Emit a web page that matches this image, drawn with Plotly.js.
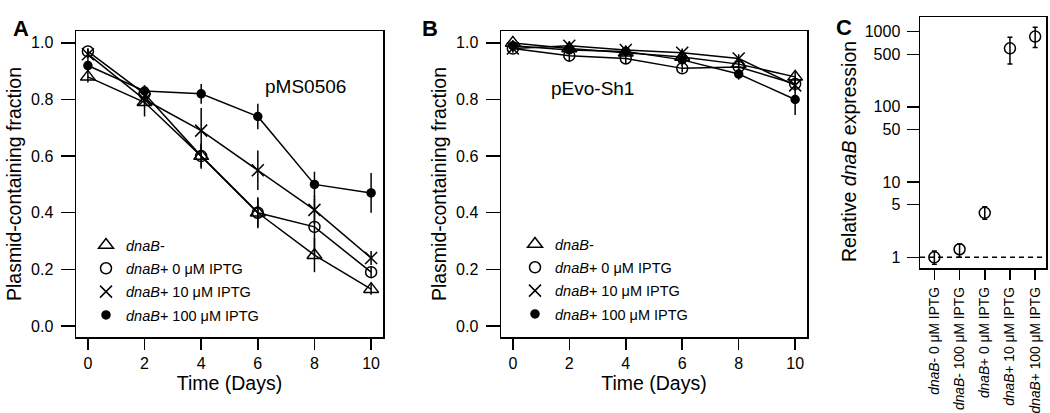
<!DOCTYPE html>
<html>
<head>
<meta charset="utf-8">
<script src="https://cdn.plot.ly/plotly-3.0.1.min.js"></script>
<style>html,body{margin:0;padding:0;background:#fff}#chart{width:1050px;height:413px}</style>
</head>
<body>
<div id="chart"></div>
<script>
// ---------- data ----------
const days = [0, 2, 4, 6, 8, 10];
const seriesNames = ['<i>dnaB</i>-', '<i>dnaB</i>+ 0 μM IPTG', '<i>dnaB</i>+ 10 μM IPTG', '<i>dnaB</i>+ 100 μM IPTG'];

// Panel A: pMS0506
const aDnaBminus = [0.88, 0.79, 0.60, 0.40, 0.25, 0.13];
const aIptg0     = [0.97, 0.82, 0.60, 0.40, 0.35, 0.19];
const aIptg10    = [0.96, 0.80, 0.69, 0.55, 0.41, 0.24];
const aIptg100   = [0.92, 0.83, 0.82, 0.74, 0.50, 0.47];
const aErrMinus  = [0.02, 0.05, 0.045, 0.055, 0.06, 0.02];
const aErr0      = [0.01, 0.03, 0.04, 0.05, 0.10, 0.02];
const aErr10     = [0.02, 0.02, 0.08, 0.07, 0.05, 0.025];
const aErr100    = [0.02, 0.02, 0.035, 0.045, 0.045, 0.07];

// Panel B: pEvo-Sh1
const bDnaBminus = [1.00, 0.98, 0.965, 0.95, 0.925, 0.88];
const bIptg0     = [0.98, 0.955, 0.945, 0.91, 0.915, 0.855];
const bIptg10    = [0.98, 0.99, 0.975, 0.965, 0.945, 0.85];
const bIptg100   = [0.99, 0.975, 0.97, 0.94, 0.89, 0.80];
const bErrMinus  = [0.01, 0.01, 0.01, 0.015, 0.015, 0.02];
const bErr0      = [0.015, 0.02, 0.02, 0.015, 0.02, 0.02];
const bErr10     = [0.01, 0.015, 0.015, 0.015, 0.015, 0.02];
const bErr100    = [0.01, 0.015, 0.015, 0.02, 0.02, 0.055];

// Panel C: relative dnaB expression
const cCategories = ['<i>dnaB</i>- 0 μM IPTG', '<i>dnaB</i>- 100 μM IPTG', '<i>dnaB</i>+ 0 μM IPTG', '<i>dnaB</i>+ 10 μM IPTG', '<i>dnaB</i>+ 100 μM IPTG'];
const cValues   = [1.0, 1.28, 3.9, 600, 861];
const cErrUpper = [1.21, 1.5, 4.7, 843, 1143];
const cErrLower = [0.81, 1.0, 3.2, 373, 618];

// ---------- styles ----------
const FONT = 'Liberation Sans, Arial, Helvetica, sans-serif';
const symbols = ['triangle-up-open', 'circle-open', 'x-thin-open', 'circle'];
const sizes = [13, 11, 12, 8];

function panelTraces(xa, ya, legendId, ys, errs) {
  const out = [];
  ys.forEach((y, i) => {
    out.push({
      x: days, y: y, xaxis: xa, yaxis: ya, type: 'scatter', mode: 'lines',
      line: {color: '#000', width: 1.5}, showlegend: false, hoverinfo: 'skip'
    });
  });
  ys.forEach((y, i) => {
    out.push({
      x: days, y: y, xaxis: xa, yaxis: ya, type: 'scatter', mode: 'markers',
      name: seriesNames[i], legend: legendId, legendgroup: legendId + i,
      marker: {symbol: symbols[i], size: sizes[i], color: '#000', line: {color: '#000', width: 1.5}},
      error_y: {type: 'data', array: errs[i], visible: true, color: '#000', thickness: 1.5, width: 0}
    });
  });
  return out;
}

const traces = [].concat(
  panelTraces('x', 'y', 'legend', [aDnaBminus, aIptg0, aIptg10, aIptg100], [aErrMinus, aErr0, aErr10, aErr100]),
  panelTraces('x2', 'y2', 'legend2', [bDnaBminus, bIptg0, bIptg10, bIptg100], [bErrMinus, bErr0, bErr10, bErr100])
);

traces.push({
  x: cCategories, y: cValues, xaxis: 'x3', yaxis: 'y3', type: 'scatter', mode: 'markers',
  showlegend: false,
  marker: {symbol: 'circle-open', size: 11, color: '#000', line: {color: '#000', width: 1.5}},
  error_y: {
    type: 'data', symmetric: false, visible: true, color: '#000', thickness: 1.5, width: 2.5,
    array: cErrUpper.map((u, i) => u - cValues[i]),
    arrayminus: cErrLower.map((l, i) => cValues[i] - l)
  }
});

const W = 1050, H = 413;
const px = v => v / W, py = v => 1 - v / H;

const tickFont = {family: FONT, size: 16, color: '#000'};
const titleFont = {family: FONT, size: 19.5, color: '#000'};

function timeAxis(domain, anchor) {
  return {
    domain: domain, anchor: anchor, range: [-0.42, 10.42],
    tickvals: days, ticks: 'outside', ticklen: 11, tickwidth: 1.5, tickcolor: '#000',
    showline: true, mirror: true, linecolor: '#000', linewidth: 1.5,
    showgrid: false, zeroline: false, tickfont: tickFont,
    title: {text: 'Time (Days)', font: titleFont, standoff: 4}
  };
}
function fracAxis(domain, anchor) {
  return {
    domain: domain, anchor: anchor, range: [-0.039, 1.042],
    tickvals: [0, 0.2, 0.4, 0.6, 0.8, 1.0], tickformat: '.1f',
    ticks: 'outside', ticklen: 14, tickwidth: 1.5, tickcolor: '#000',
    showline: true, mirror: true, linecolor: '#000', linewidth: 1.5,
    showgrid: false, zeroline: false, tickfont: tickFont, ticklabelstandoff: 4,
    title: {text: 'Plasmid-containing fraction', font: titleFont, standoff: 4}
  };
}

const legendBase = {
  font: {family: FONT, size: 14.5, color: '#000'}, bgcolor: 'rgba(0,0,0,0)', borderwidth: 0,
  xanchor: 'left', yanchor: 'top', tracegroupgap: 1.5, itemclick: false
};

const layout = {
  width: W, height: H,
  margin: {l: 0, r: 0, t: 0, b: 0},
  paper_bgcolor: '#fff', plot_bgcolor: '#fff',
  font: {family: FONT, color: '#000'},
  xaxis: timeAxis([px(76), px(383)], 'y'),
  yaxis: fracAxis([py(337), py(31)], 'x'),
  xaxis2: timeAxis([px(501), px(807)], 'y2'),
  yaxis2: fracAxis([py(337), py(31)], 'x2'),
  xaxis3: {
    domain: [px(920), px(1046)], anchor: 'y3', range: [-0.57, 4.43], type: 'category',
    ticks: 'outside', ticklen: 10, tickwidth: 1.5, tickcolor: '#000', tickangle: -90,
    showline: true, mirror: true, linecolor: '#000', linewidth: 1.5, showgrid: false,
    tickfont: {family: FONT, size: 13.8, color: '#000'}, ticklabelstandoff: 2
  },
  yaxis3: {
    domain: [py(268), py(17)], anchor: 'x3', type: 'log', range: [-0.142, 3.195],
    tickvals: [1, 5, 10, 50, 100, 500, 1000], ticktext: ['1', '5', '10', '50', '100', '500', '1000'],
    ticks: 'outside', ticklen: 12, tickwidth: 1.5, tickcolor: '#000',
    showline: true, mirror: true, linecolor: '#000', linewidth: 1.5,
    showgrid: false, zeroline: false, tickfont: tickFont, ticklabelstandoff: 3
  },
  legend: Object.assign({x: px(86), y: py(229)}, legendBase),
  legend2: Object.assign({x: px(515), y: py(228)}, legendBase),
  shapes: [{
    type: 'line', xref: 'x3 domain', yref: 'y3', x0: 0, x1: 1, y0: 1, y1: 1,
    line: {color: '#000', width: 1.5, dash: '5px,4px'}
  }],
  annotations: [
    {text: '<b>A</b>', xref: 'paper', yref: 'paper', x: px(11), y: py(14), showarrow: false, font: {family: FONT, size: 22, color: '#000'}},
    {text: '<b>B</b>', xref: 'paper', yref: 'paper', x: px(430), y: py(14), showarrow: false, font: {family: FONT, size: 22, color: '#000'}},
    {text: '<b>C</b>', xref: 'paper', yref: 'paper', x: px(854), y: py(13), showarrow: false, font: {family: FONT, size: 22, color: '#000'}},
    {text: 'Relative <i>dnaB</i> expression', xref: 'paper', yref: 'paper', x: px(862), y: py(152), textangle: -90, showarrow: false, font: titleFont},
    {text: 'pMS0506', xref: 'x', yref: 'y', x: 7.67, y: 0.845, showarrow: false, font: {family: FONT, size: 19, color: '#000'}},
    {text: 'pEvo-Sh1', xref: 'x2', yref: 'y2', x: 2.82, y: 0.84, showarrow: false, font: {family: FONT, size: 19, color: '#000'}}
  ]
};

Plotly.newPlot('chart', traces, layout, {staticPlot: true, displayModeBar: false});
</script>
</body>
</html>
